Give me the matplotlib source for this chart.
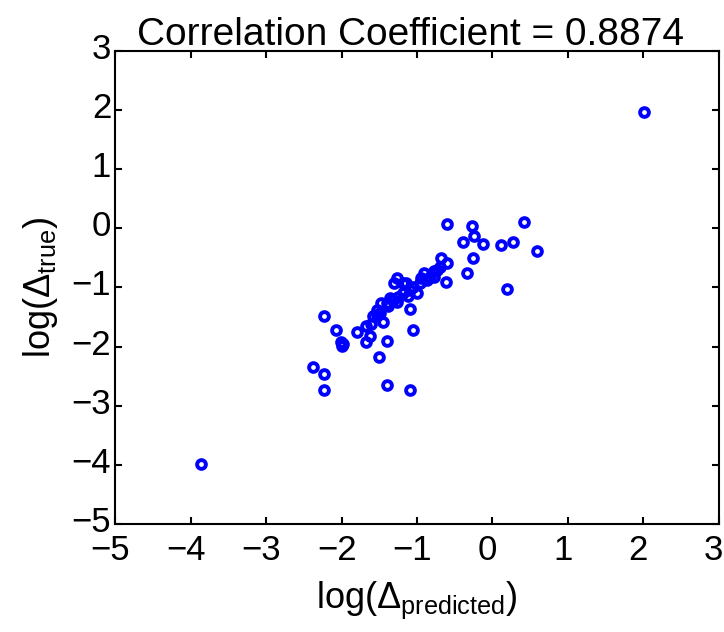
import matplotlib
matplotlib.use("Agg")
import matplotlib.pyplot as plt
from matplotlib.transforms import ScaledTranslation

fam = 'Liberation Sans'
plt.rcParams['font.family'] = [fam, 'DejaVu Sans']
plt.rcParams['mathtext.fontset'] = 'custom'
plt.rcParams['mathtext.rm'] = fam
plt.rcParams['mathtext.it'] = fam
plt.rcParams['mathtext.bf'] = fam

title = "Correlation Coefficient = 0.8874"
xlabel = r"log($\Delta_{\mathrm{predicted}}$)"
ylabel = r"log($\Delta_{\mathrm{true}}$)"
ticks = [-5, -4, -3, -2, -1, 0, 1, 2, 3]

log_pred = [-3.87, 2.01, -2.23, -2.07, -2.01, -2.00, -1.98, -2.38, -2.23, -2.23,
            -1.79, -1.68, -1.62, -1.67, -1.61, -1.50, -1.40, -1.40, -1.09, -1.05,
            -1.09, -1.48, -1.45, -1.27, -1.30, -1.14, -0.68, -0.60, -0.61, -0.60,
            -0.39, -0.27, -0.25, -0.13, -0.26, -0.34, 0.12, 0.27, 0.42, 0.59,
            0.19,
            -1.18, -0.91, -0.78, -1.05, -1.18, -1.32, -1.40, -1.53, -1.58, -0.96,
            -1.09, -0.83, -0.74, -0.69, -1.25, -1.36, -1.53, -1.38, -1.27, -1.49,
            -0.87, -0.78, -1.00, -1.12, -0.95]
log_true = [-3.98, 1.97, -1.48, -1.72, -1.93, -1.99, -1.96, -2.35, -2.47, -2.73,
            -1.76, -1.92, -1.83, -1.65, -1.62, -2.18, -1.91, -2.65, -2.73, -1.72,
            -1.37, -1.27, -1.58, -0.84, -0.93, -0.92, -0.50, -0.59, -0.91, 0.07,
            -0.24, 0.04, -0.14, -0.26, -0.51, -0.76, -0.29, -0.24, 0.10, -0.39,
            -1.03,
            -0.93, -0.76, -0.73, -0.99, -1.09, -1.21, -1.27, -1.38, -1.49, -0.93,
            -1.04, -0.82, -0.70, -0.65, -1.16, -1.18, -1.46, -1.32, -1.24, -1.44,
            -0.87, -0.82, -1.10, -1.15, -0.85]

fig = plt.figure(figsize=(7.24, 6.32), dpi=100)
ax = fig.add_axes([0.1593, 0.1709, 0.8334, 0.7489])
ax.plot(log_pred, log_true, linestyle='none', marker='o', ms=6.3, mew=2.8,
        mfc='none', mec=(0, 0, 1))
ax.set_xlim(-5, 3)
ax.set_ylim(-5, 3)
ax.set_xticks(ticks)
ax.set_yticks(ticks)
for s in ax.spines.values():
    s.set_linewidth(1.5)
ax.tick_params(direction='in', length=5, width=1.5, top=True, right=True,
               labelsize=25)
ax.tick_params(axis='x', pad=7)
ax.tick_params(axis='y', pad=3)
xshift = ScaledTranslation(-0.05, 0, fig.dpi_scale_trans)
yshift = ScaledTranslation(0, 0.05, fig.dpi_scale_trans)
for lab in ax.get_xticklabels():
    lab.set_transform(lab.get_transform() + xshift)
for lab in ax.get_yticklabels():
    lab.set_transform(lab.get_transform() + yshift)
ax.set_title(title, fontsize=28, pad=4, x=0.49)
ax.set_xlabel(xlabel, fontsize=26, labelpad=9)
ax.set_ylabel(ylabel, fontsize=26, labelpad=8)
fig.savefig("out.png", dpi=100)
